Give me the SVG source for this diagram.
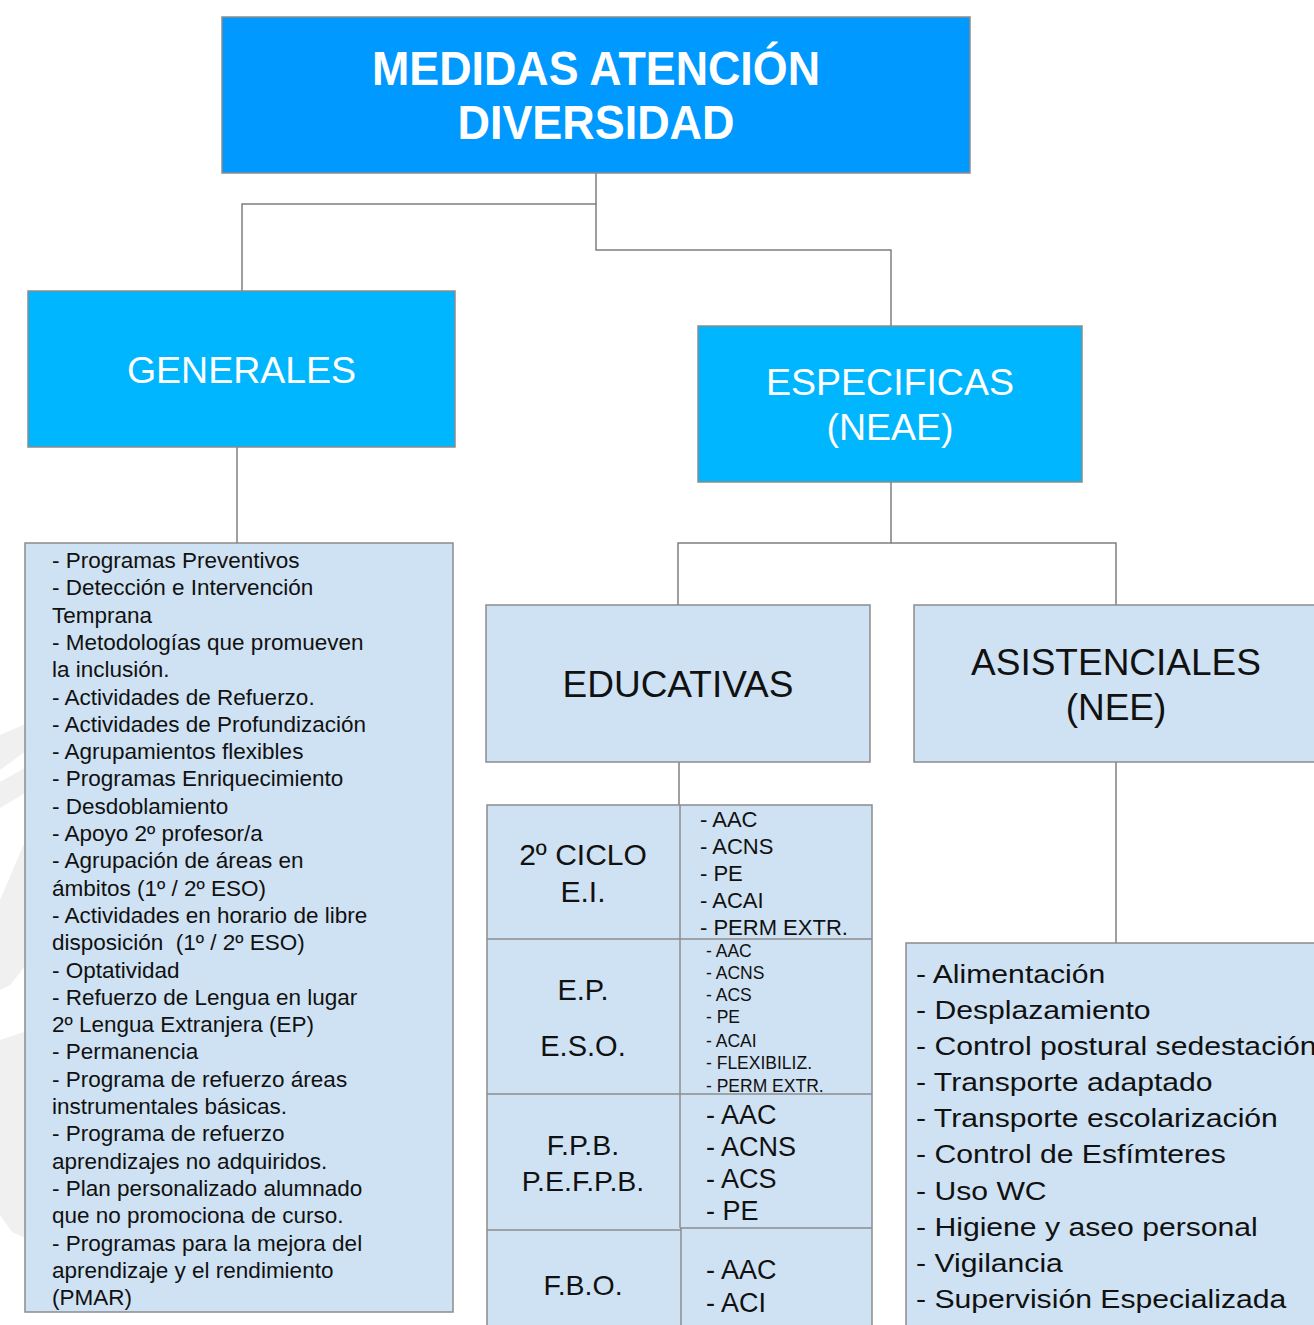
<svg xmlns="http://www.w3.org/2000/svg" width="1314" height="1325" viewBox="0 0 1314 1325">
<style>
text{font-family:"Liberation Sans",Arial,sans-serif}
.box{stroke:#8c8c8c;stroke-width:1.5}
.dark{fill:#0099ff}
.mid{fill:#00b6ff}
.light{fill:#cfe2f3}
.wt{fill:#ffffff}
.bk{fill:#111111}
.conn{fill:none;stroke:#7f7f7f;stroke-width:1.5}
.wm{fill:#f0f0f0}
</style>
<rect width="1314" height="1325" fill="#ffffff"/>
<g id="watermark">
<path class="wm" d="M0 735 L30 722 L30 748 L0 770 Z"/>
<path class="wm" d="M0 782 L30 765 L30 790 L0 808 Z"/>
<path class="wm" d="M0 900 L30 830 L30 960 L10 985 L0 990 Z"/>
<path class="wm" d="M0 1040 L30 1030 L30 1240 L12 1232 L0 1215 Z"/>
</g>
<g id="connectors">
<polyline class="conn" points="596,173 596,204 242,204 242,291"/>
<polyline class="conn" points="596,204 596,250 891,250 891,326"/>
<line class="conn" x1="237" y1="447" x2="237" y2="543"/>
<polyline class="conn" points="891,482 891,543 678,543 678,605"/>
<polyline class="conn" points="891,543 1116,543 1116,605"/>
<line class="conn" x1="679" y1="762" x2="679" y2="805"/>
<line class="conn" x1="1116" y1="762" x2="1116" y2="943"/>
</g>
<g id="root">
<rect class="box dark" x="222" y="17" width="748" height="156"/>
<text class="wt" font-weight="bold" font-size="49" text-anchor="middle" x="596" y="85" textLength="448" lengthAdjust="spacingAndGlyphs">MEDIDAS ATENCIÓN</text>
<text class="wt" font-weight="bold" font-size="49" text-anchor="middle" x="596" y="139" textLength="277" lengthAdjust="spacingAndGlyphs">DIVERSIDAD</text>
</g>
<g id="generales">
<rect class="box mid" x="28" y="291" width="427" height="156"/>
<text class="wt" font-size="37.5" text-anchor="middle" x="241.5" y="383">GENERALES</text>
</g>
<g id="especificas">
<rect class="box mid" x="698" y="326" width="384" height="156"/>
<text class="wt" font-size="37.5" text-anchor="middle" x="890" y="395">ESPECIFICAS</text>
<text class="wt" font-size="37.5" text-anchor="middle" x="890" y="440">(NEAE)</text>
</g>
<g id="generales-list">
<rect class="box light" x="25" y="543" width="428" height="769"/>
<text class="bk" font-size="22.5" x="52">
<tspan x="52" y="568">- Programas Preventivos</tspan>
<tspan x="52" y="595.3">- Detección e Intervención</tspan>
<tspan x="52" y="622.6">Temprana</tspan>
<tspan x="52" y="649.9">- Metodologías que promueven</tspan>
<tspan x="52" y="677.2">la inclusión.</tspan>
<tspan x="52" y="704.5">- Actividades de Refuerzo.</tspan>
<tspan x="52" y="731.8">- Actividades de Profundización</tspan>
<tspan x="52" y="759.1">- Agrupamientos flexibles</tspan>
<tspan x="52" y="786.4">- Programas Enriquecimiento</tspan>
<tspan x="52" y="813.7">- Desdoblamiento</tspan>
<tspan x="52" y="841">- Apoyo 2º profesor/a</tspan>
<tspan x="52" y="868.3">- Agrupación de áreas en</tspan>
<tspan x="52" y="895.6">ámbitos (1º / 2º ESO)</tspan>
<tspan x="52" y="922.9">- Actividades en horario de libre</tspan>
<tspan x="52" y="950.2" xml:space="preserve">disposición  (1º / 2º ESO)</tspan>
<tspan x="52" y="977.5">- Optatividad</tspan>
<tspan x="52" y="1004.8">- Refuerzo de Lengua en lugar</tspan>
<tspan x="52" y="1032.1">2º Lengua Extranjera (EP)</tspan>
<tspan x="52" y="1059.4">- Permanencia</tspan>
<tspan x="52" y="1086.7">- Programa de refuerzo áreas</tspan>
<tspan x="52" y="1114">instrumentales básicas.</tspan>
<tspan x="52" y="1141.3">- Programa de refuerzo</tspan>
<tspan x="52" y="1168.6">aprendizajes no adquiridos.</tspan>
<tspan x="52" y="1195.9">- Plan personalizado alumnado</tspan>
<tspan x="52" y="1223.2">que no promociona de curso.</tspan>
<tspan x="52" y="1250.5">- Programas para la mejora del</tspan>
<tspan x="52" y="1277.8">aprendizaje y el rendimiento</tspan>
<tspan x="52" y="1305.1">(PMAR)</tspan>
</text>
</g>
<g id="educativas">
<rect class="box light" x="486" y="605" width="384" height="157"/>
<text class="bk" font-size="37" text-anchor="middle" x="678" y="697">EDUCATIVAS</text>
</g>
<g id="asistenciales">
<rect class="box light" x="914" y="605" width="410" height="157"/>
<text class="bk" font-size="37" text-anchor="middle" x="1116" y="675">ASISTENCIALES</text>
<text class="bk" font-size="37" text-anchor="middle" x="1116" y="720">(NEE)</text>
</g>
<g id="educativas-table">
<rect class="box light" x="487" y="805" width="385" height="530"/>
<line class="box" x1="487" y1="939" x2="872" y2="939"/>
<line class="box" x1="487" y1="1094" x2="872" y2="1094"/>
<line class="box" x1="487" y1="1230" x2="681" y2="1230"/>
<line class="box" x1="680" y1="1228" x2="872" y2="1228"/>
<line class="box" x1="680" y1="805" x2="680" y2="1228"/>
<line class="box" x1="681" y1="1228" x2="681" y2="1325"/>
<g id="row-ei">
<text class="bk" font-size="30" text-anchor="middle" x="583" y="865">2º CICLO</text>
<text class="bk" font-size="30" text-anchor="middle" x="583" y="902">E.I.</text>
<text class="bk" font-size="22">
<tspan x="700" y="827">- AAC</tspan>
<tspan x="700" y="854">- ACNS</tspan>
<tspan x="700" y="881">- PE</tspan>
<tspan x="700" y="908">- ACAI</tspan>
<tspan x="700" y="935">- PERM EXTR.</tspan>
</text>
</g>
<g id="row-ep-eso">
<text class="bk" font-size="29" text-anchor="middle" x="583" y="1000">E.P.</text>
<text class="bk" font-size="29" text-anchor="middle" x="583" y="1056">E.S.O.</text>
<text class="bk" font-size="17.5">
<tspan x="706" y="957">- AAC</tspan>
<tspan x="706" y="979">- ACNS</tspan>
<tspan x="706" y="1001">- ACS</tspan>
<tspan x="706" y="1023">- PE</tspan>
<tspan x="706" y="1047">- ACAI</tspan>
<tspan x="706" y="1069">- FLEXIBILIZ.</tspan>
<tspan x="706" y="1092">- PERM EXTR.</tspan>
</text>
</g>
<g id="row-fpb">
<text class="bk" font-size="28.5" text-anchor="middle" x="583" y="1155">F.P.B.</text>
<text class="bk" font-size="28.5" text-anchor="middle" x="583" y="1191">P.E.F.P.B.</text>
<text class="bk" font-size="27">
<tspan x="706" y="1124">- AAC</tspan>
<tspan x="706" y="1156">- ACNS</tspan>
<tspan x="706" y="1188">- ACS</tspan>
<tspan x="706" y="1220">- PE</tspan>
</text>
</g>
<g id="row-fbo">
<text class="bk" font-size="28.5" text-anchor="middle" x="583" y="1295">F.B.O.</text>
<text class="bk" font-size="27">
<tspan x="706" y="1279">- AAC</tspan>
<tspan x="706" y="1312">- ACI</tspan>
</text>
</g>
</g>
<g id="asistenciales-list">
<rect class="box light" x="906" y="943" width="420" height="392"/>
<g transform="translate(916,0) scale(1.16,1)">
<text class="bk" font-size="26">
<tspan x="0" y="983">- Alimentación</tspan>
<tspan x="0" y="1019">- Desplazamiento</tspan>
<tspan x="0" y="1055">- Control postural sedestación</tspan>
<tspan x="0" y="1091">- Transporte adaptado</tspan>
<tspan x="0" y="1127">- Transporte escolarización</tspan>
<tspan x="0" y="1163">- Control de Esfímteres</tspan>
<tspan x="0" y="1200">- Uso WC</tspan>
<tspan x="0" y="1236">- Higiene y aseo personal</tspan>
<tspan x="0" y="1272">- Vigilancia</tspan>
<tspan x="0" y="1308">- Supervisión Especializada</tspan>
</text>
</g>
</g>
</svg>
